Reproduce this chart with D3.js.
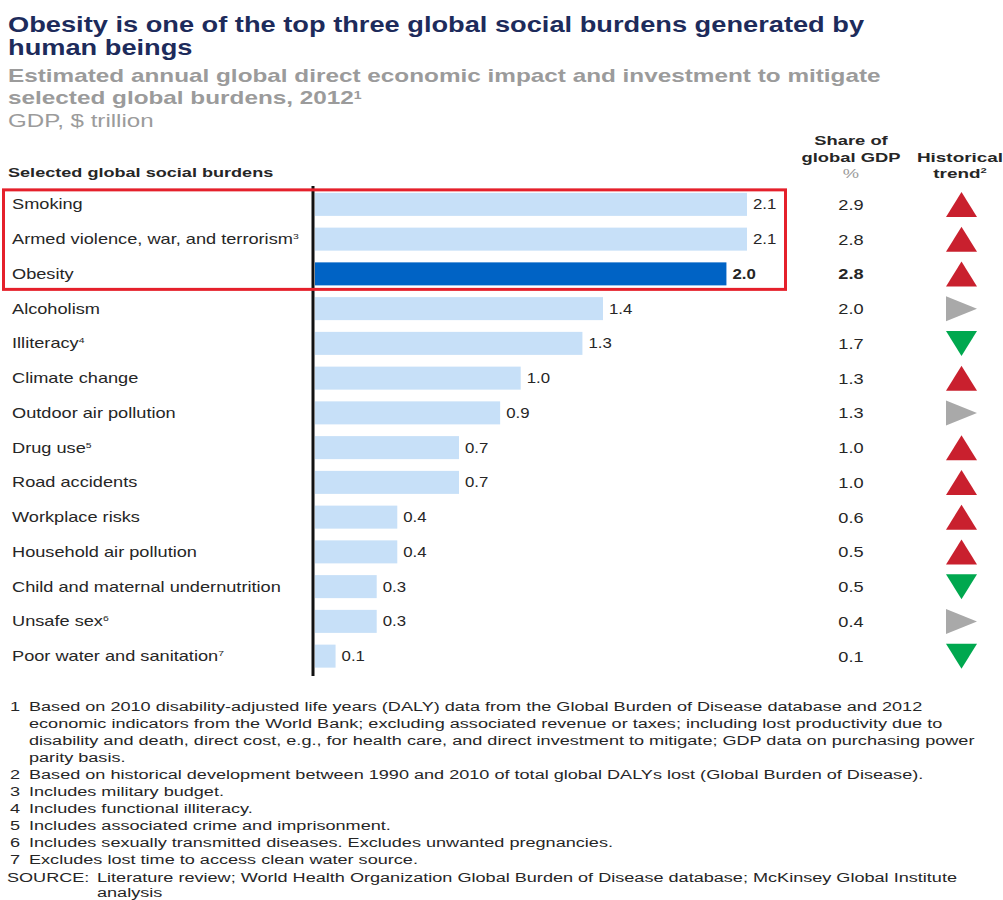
<!DOCTYPE html>
<html>
<head>
<meta charset="utf-8">
<script src="https://cdn.jsdelivr.net/npm/d3@7"></script>
<style>
  body { margin: 0; background: #fff; }
  svg { display: block; }
  text { font-family: "Liberation Sans", Arial, sans-serif; }
</style>
</head>
<body>
<svg id="chart" width="1003" height="900"></svg>
<script>
// Social burdens, ranked by estimated annual impact (GDP, $ trillion)
const categories = [
  "Smoking", "Armed violence, war, and terrorism", "Obesity", "Alcoholism",
  "Illiteracy", "Climate change", "Outdoor air pollution", "Drug use",
  "Road accidents", "Workplace risks", "Household air pollution",
  "Child and maternal undernutrition", "Unsafe sex", "Poor water and sanitation"
];
const noteMarks = ["", "3", "", "", "4", "", "", "5", "", "", "", "", "6", "7"];
const impact   = [2.1, 2.1, 2.0, 1.4, 1.3, 1.0, 0.9, 0.7, 0.7, 0.4, 0.4, 0.3, 0.3, 0.1];
const gdpShare = [2.9, 2.8, 2.8, 2.0, 1.7, 1.3, 1.3, 1.0, 1.0, 0.6, 0.5, 0.5, 0.4, 0.1];
const trends   = ["up", "up", "up", "flat", "down", "up", "flat", "up", "up", "up", "up", "down", "flat", "down"];
const highlighted = "Obesity";
const topThree = ["Smoking", "Armed violence, war, and terrorism", "Obesity"];

const footnotes = [
  ["1", "Based on 2010 disability-adjusted life years (DALY) data from the Global Burden of Disease database and 2012"],
  ["",  "economic indicators from the World Bank; excluding associated revenue or taxes; including lost productivity due to"],
  ["",  "disability and death, direct cost, e.g., for health care, and direct investment to mitigate; GDP data on purchasing power"],
  ["",  "parity basis."],
  ["2", "Based on historical development between 1990 and 2010 of total global DALYs lost (Global Burden of Disease)."],
  ["3", "Includes military budget."],
  ["4", "Includes functional illiteracy."],
  ["5", "Includes associated crime and imprisonment."],
  ["6", "Includes sexually transmitted diseases. Excludes unwanted pregnancies."],
  ["7", "Excludes lost time to access clean water source."]
];
const sourceLines = [
  "Literature review; World Health Organization Global Burden of Disease database; McKinsey Global Institute",
  "analysis"
];

const rows = categories.map((name, i) => ({
  name, mark: noteMarks[i], value: impact[i], share: gdpShare[i], trend: trends[i]
}));

const svg = d3.select("#chart");

// Colours
const C = {
  title: "#1d2b5b", subtitle: "#9b9b9b", text: "#262626",
  bar: "#c7e0f8", barHi: "#0063c5", box: "#e5202b",
  up: "#c9202e", down: "#00a84f", flat: "#a9a9a9"
};

// Text is set wide; place() positions it and applies the horizontal stretch
function place(sel, x, y, sx) {
  return sel.attr("transform", `translate(${x},${y}) scale(${sx},1)`);
}
function addSup(textSel, s, size) {
  if (s) textSel.append("tspan").attr("dy", -5).attr("font-size", size).text(s);
}

// ---- Title block ----
const title = svg.append("g");
[["Obesity is one of the top three global social burdens generated by", 31.5],
 ["human beings", 55]].forEach(([t, y]) => {
  place(title.append("text"), 8, y, 1.21)
    .attr("font-size", 22.5).attr("font-weight", "bold").attr("fill", C.title).text(t);
});
place(title.append("text"), 8, 81.5, 1.28)
  .attr("font-size", 19).attr("font-weight", "bold").attr("fill", C.subtitle)
  .text("Estimated annual global direct economic impact and investment to mitigate");
const sub2 = place(title.append("text"), 8, 103.5, 1.28)
  .attr("font-size", 19).attr("font-weight", "bold").attr("fill", C.subtitle)
  .text("selected global burdens, 2012");
addSup(sub2, "1", 11);
place(title.append("text"), 8, 126.5, 1.27)
  .attr("font-size", 19).attr("fill", C.subtitle).text("GDP, $ trillion");

// ---- Column headers ----
const hdr = svg.append("g").attr("font-weight", "bold").attr("font-size", 13.5).attr("fill", C.text);
place(hdr.append("text"), 8, 177, 1.34).text("Selected global social burdens");
place(hdr.append("text"), 851, 145, 1.36).attr("text-anchor", "middle").text("Share of");
place(hdr.append("text"), 851, 162, 1.36).attr("text-anchor", "middle").text("global GDP");
place(hdr.append("text"), 851, 178, 1.36).attr("text-anchor", "middle")
  .attr("font-weight", "normal").attr("fill", C.subtitle).text("%");
place(hdr.append("text"), 960, 162, 1.4).attr("text-anchor", "middle").text("Historical");
const tr = place(hdr.append("text"), 960, 178, 1.4).attr("text-anchor", "middle").text("trend");
addSup(tr, "2", 8);

// ---- Scales ----
const x = d3.scaleLinear().domain([0, 2.1]).range([315, 747]);
const y = d3.scaleBand().domain(categories).range([187, 673.5]).paddingInner(0.338).paddingOuter(0.169);
const cy = d => y(d) + y.bandwidth() / 2;

// ---- Bars ----
svg.append("g").selectAll("rect").data(rows).join("rect")
  .attr("x", x(0)).attr("y", d => y(d.name))
  .attr("width", d => x(d.value) - x(0)).attr("height", y.bandwidth())
  .attr("fill", d => d.name === highlighted ? C.barHi : C.bar);

// Baseline of the bars
svg.append("line").attr("x1", x(0) - 2).attr("x2", x(0) - 2)
  .attr("y1", 186).attr("y2", 676).attr("stroke", "#111").attr("stroke-width", 3);

// ---- Category labels ----
const lab = svg.append("g").attr("font-size", 14).attr("fill", C.text);
rows.forEach(d => {
  const t = place(lab.append("text"), 12, cy(d.name) + 5, 1.3).text(d.name);
  addSup(t, d.mark, 8);
});

// ---- Value labels ----
const vl = svg.append("g").attr("font-size", 14).attr("fill", C.text);
rows.forEach(d => {
  place(vl.append("text"), x(d.value) + 6, cy(d.name) + 5, 1.2)
    .attr("font-weight", d.name === highlighted ? "bold" : "normal")
    .text(d3.format(".1f")(d.value));
});

// ---- Share of global GDP ----
const sh = svg.append("g").attr("font-size", 14).attr("fill", C.text);
rows.forEach(d => {
  place(sh.append("text"), 851, cy(d.name) + 5.5, 1.3).attr("text-anchor", "middle")
    .attr("font-weight", d.name === highlighted ? "bold" : "normal")
    .text(d3.format(".1f")(d.share));
});

// ---- Historical trend markers ----
const tx = 961.5, hw = 15.5, hh = 12.5;
const shapes = {
  up:   `M0,${-hh}L${hw},${hh}L${-hw},${hh}Z`,
  down: `M${-hw},${-hh}L${hw},${-hh}L0,${hh}Z`,
  flat: `M${-hw},${-hh}L${hw},0L${-hw},${hh}Z`
};
svg.append("g").selectAll("path").data(rows).join("path")
  .attr("transform", d => `translate(${tx},${cy(d.name)})`)
  .attr("d", d => shapes[d.trend])
  .attr("fill", d => C[d.trend]);

// ---- Highlight box round the top three ----
const boxTop = y(topThree[0]) - 3;
const boxBot = y(topThree[topThree.length - 1]) + y.bandwidth() + 4;
svg.append("rect").attr("x", 3.5).attr("y", boxTop).attr("width", 782)
  .attr("height", boxBot - boxTop).attr("fill", "none")
  .attr("stroke", C.box).attr("stroke-width", 3);

// ---- Footnotes ----
const fn = svg.append("g").attr("font-size", 13.5).attr("fill", C.text);
const fnTop = 711, fnStep = 17, fnSx = 1.34;
footnotes.forEach(([n, t], i) => {
  const yy = fnTop + i * fnStep;
  if (n) place(fn.append("text"), 10, yy, fnSx).text(n);
  place(fn.append("text"), 29, yy, fnSx).text(t);
});
const srcY = fnTop + footnotes.length * fnStep + 1;
place(fn.append("text"), 7, srcY, fnSx).text("SOURCE:");
place(fn.append("text"), 97, srcY, fnSx).text(sourceLines[0]);
place(fn.append("text"), 97, srcY + 15, fnSx).text(sourceLines[1]);
</script>
</body>
</html>
